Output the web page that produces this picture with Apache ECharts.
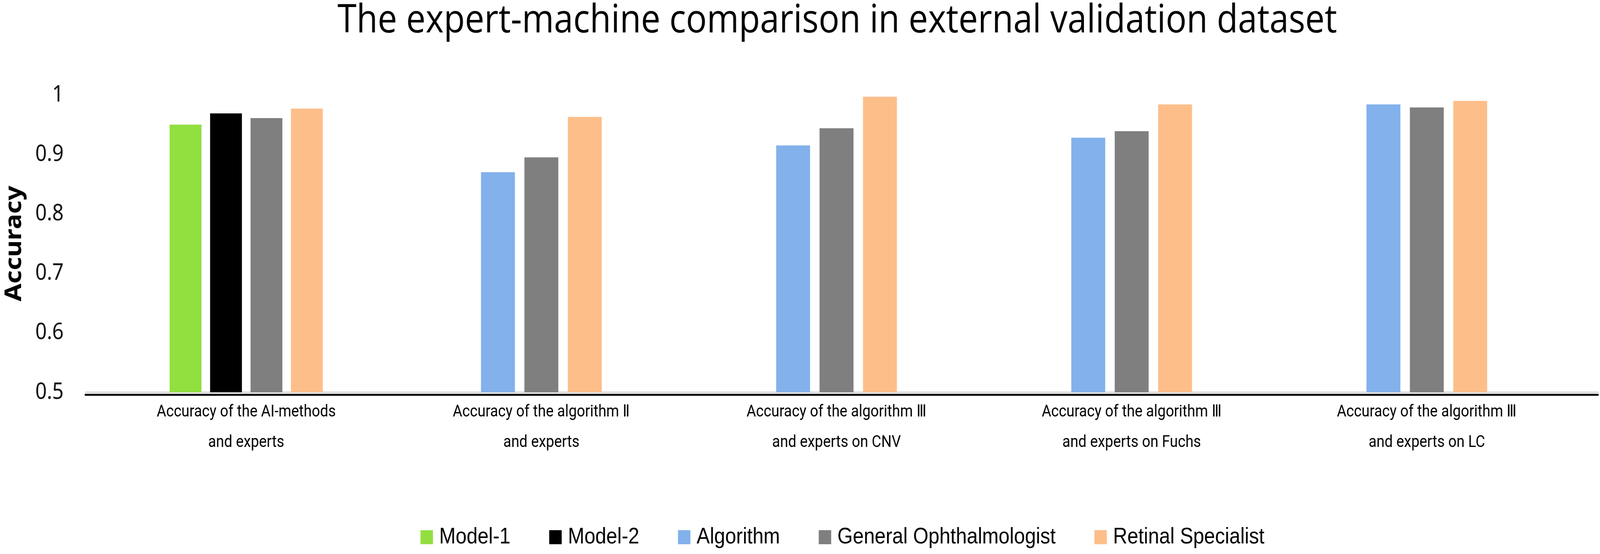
<!DOCTYPE html>
<html>
<head>
<meta charset="utf-8">
<title>The expert-machine comparison in external validation dataset</title>
<script src="https://cdn.jsdelivr.net/npm/echarts@6/dist/echarts.min.js"></script>
<style>
  html, body { margin: 0; padding: 0; background: #fff; overflow: hidden; }
  #chart { width: 4623px; height: 1418px; transform-origin: 0 0; }
</style>
</head>
<body>
<div id="chart"></div>
<script>
// categories on the x axis
var categories = [
    'Accuracy of the AI-methods\nand experts',
    'Accuracy of the algorithm Ⅱ\nand experts',
    'Accuracy of the algorithm Ⅲ\nand experts on CNV',
    'Accuracy of the algorithm Ⅲ\nand experts on Fuchs',
    'Accuracy of the algorithm Ⅲ\nand experts on LC'
];

// accuracy values (null = no bar in that group)
var model1 = [0.950, null, null, null, null];
var model2 = [0.969, null, null, null, null];
var algorithm = [null, 0.870, 0.915, 0.928, 0.984];
var generalOph = [0.961, 0.895, 0.944, 0.939, 0.979];
var retinalSpec = [0.977, 0.963, 0.997, 0.984, 0.990];

// y axis ticks
var yMin = 0.5;
var yMax = 1;
var yStep = 0.1;

var legendNames = ['Model-1', 'Model-2', 'Algorithm', 'General Ophthalmologist', 'Retinal Specialist'];
var colors = {
    'Model-1': '#92df40',
    'Model-2': '#000000',
    'Algorithm': '#82b1eb',
    'General Ophthalmologist': '#7f7f7f',
    'Retinal Specialist': '#fdbe8a'
};

// first group (4 bars) and the other groups (3 bars) are laid out separately
function onlyFirst(arr) {
    return arr.map(function (v, i) { return i === 0 ? v : null; });
}
function skipFirst(arr) {
    return arr.map(function (v, i) { return i === 0 ? null : v; });
}

function bar(name, data, axisIdx, width, gap) {
    return {
        name: name,
        type: 'bar',
        xAxisIndex: axisIdx,
        yAxisIndex: 1,
        barWidth: width,
        barGap: gap,
        data: data,
        itemStyle: { color: colors[name] }
    };
}

var labelFont = "Roboto, 'Noto Sans', sans-serif";

// the window can be narrower than the 4623px design, squeeze it to fit
var box = document.getElementById('chart');
var sx = window.innerWidth / 4623;
if (sx < 1) {
    box.style.transform = 'scaleX(' + sx + ')';
}

var myChart = echarts.init(box);

var option = {
    animation: false,
    backgroundColor: '#ffffff',
    title: {
        text: 'The expert-machine comparison in external validation dataset',
        left: 2414,
        textAlign: 'center',
        top: 0,
        textStyle: {
            fontFamily: "'Open Sans', 'Noto Sans', sans-serif",
            fontSize: 100,
            fontWeight: 'normal',
            color: '#000'
        }
    },
    legend: {
        data: legendNames,
        left: 1210,
        top: 1340,
        icon: 'rect',
        itemWidth: 36,
        itemHeight: 36,
        itemGap: 112,
        textStyle: {
            fontFamily: "'Liberation Sans', Arial, sans-serif",
            fontSize: 57,
            lineHeight: 60,
            color: '#000',
            padding: [0, 0, 0, 13]
        }
    },
    grid: [
        // axis lines and y labels
        { left: 247, right: 6, top: 243, bottom: 414 },
        // bars
        { left: 285, right: 74, top: 243, bottom: 414 }
    ],
    xAxis: [
        {
            gridIndex: 0,
            type: 'category',
            data: categories,
            position: 'bottom',
            offset: 6,
            axisLine: { lineStyle: { color: '#000', width: 5 } },
            axisTick: { show: false },
            axisLabel: { show: false }
        },
        {
            gridIndex: 1,
            type: 'category',
            data: categories,
            position: 'bottom',
            axisLine: { show: false },
            axisTick: { show: false },
            axisLabel: {
                interval: 0,
                margin: 12,
                fontFamily: labelFont,
                fontSize: 42,
                lineHeight: 78,
                color: '#000'
            }
        },
        {
            gridIndex: 1,
            type: 'category',
            data: categories,
            position: 'bottom',
            show: false
        },
        {
            gridIndex: 0,
            type: 'category',
            data: categories,
            position: 'bottom',
            offset: 0,
            axisLine: { lineStyle: { color: '#d9d9d9', width: 4 } },
            axisTick: { show: false },
            axisLabel: { show: false }
        }
    ],
    yAxis: [
        {
            gridIndex: 0,
            type: 'value',
            min: yMin,
            max: yMax,
            interval: yStep,
            name: 'Accuracy',
            nameLocation: 'middle',
            nameGap: 172,
            nameTextStyle: {
                fontFamily: "'Noto Sans', 'Open Sans', sans-serif",
                fontSize: 66,
                fontWeight: 'bold',
                color: '#000'
            },
            axisLine: { show: false },
            axisTick: { show: false },
            splitLine: { show: false },
            axisLabel: {
                margin: 63,
                fontFamily: "'Noto Sans', 'Open Sans', sans-serif",
                fontSize: 58,
                color: '#111'
            }
        },
        {
            gridIndex: 1,
            type: 'value',
            min: yMin,
            max: yMax,
            interval: yStep,
            show: false,
            splitLine: { show: false }
        }
    ],
    series: [
        bar('Model-1', onlyFirst(model1), 1, 92, '27%'),
        bar('Model-2', onlyFirst(model2), 1, 92, '27%'),
        bar('General Ophthalmologist', onlyFirst(generalOph), 1, 92, '27%'),
        bar('Retinal Specialist', onlyFirst(retinalSpec), 1, 92, '27%'),
        bar('Algorithm', skipFirst(algorithm), 2, 98, '28%'),
        bar('General Ophthalmologist', skipFirst(generalOph), 2, 98, '28%'),
        bar('Retinal Specialist', skipFirst(retinalSpec), 2, 98, '28%')
    ]
};

myChart.setOption(option);
</script>
</body>
</html>
